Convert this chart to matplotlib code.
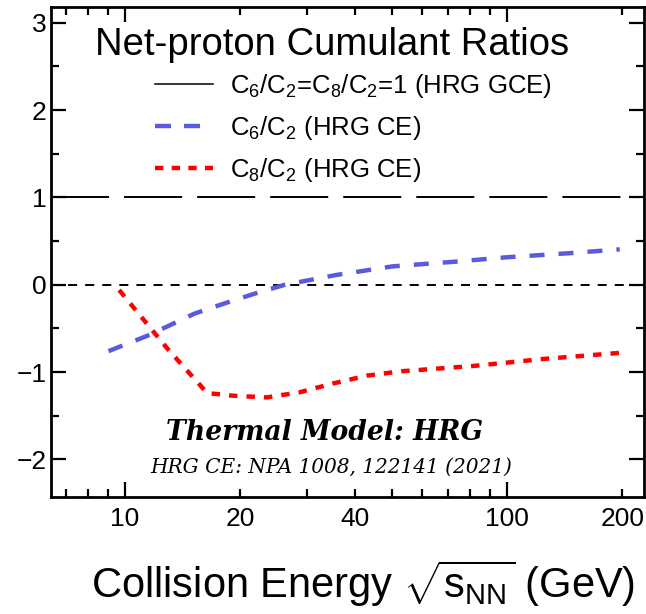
import matplotlib
matplotlib.use('Agg')
import matplotlib.pyplot as plt
from matplotlib.lines import Line2D

plt.rcParams['font.family'] = ['Liberation Sans', 'DejaVu Sans']
plt.rcParams['mathtext.fontset'] = 'custom'
plt.rcParams['mathtext.rm'] = 'Liberation Sans'
plt.rcParams['mathtext.it'] = 'Liberation Sans:italic'
plt.rcParams['mathtext.bf'] = 'Liberation Sans:bold'
plt.rcParams['lines.scale_dashes'] = False

# ---- data ----
energy_c6 = [9.05, 11.5, 15.2, 18.6, 21.9, 26.2, 35.5, 50, 71, 100, 144, 197]
ratio_c6 = [-0.76, -0.58, -0.33, -0.20, -0.10, 0.0, 0.11, 0.21, 0.26, 0.315, 0.36, 0.405]

energy_c8 = [9.65, 12.9, 16.4, 19.1, 23.5, 28.7, 35, 43, 53, 81.5, 124, 197]
ratio_c8 = [-0.06, -0.73, -1.24, -1.27, -1.29, -1.23, -1.13, -1.04, -0.99, -0.93, -0.85, -0.78]

gce_level = 1.0
zero_level = 0.0

xticks_major = [10, 100]
xticks_minor = [7, 8, 9, 20, 30, 40, 50, 60, 70, 80, 90, 200]
xlabels_major = ['10', '100']
xlabels_minor = ['', '', '', '20', '', '40', '', '', '', '', '', '200']
yticks_major = [-2, -1, 0, 1, 2, 3]
yticks_minor = [-1.5, -0.5, 0.5, 1.5, 2.5]

label_gce = r'C$_6$/C$_2$=C$_8$/C$_2$=1 (HRG GCE)'
label_c6 = r'C$_6$/C$_2$ (HRG CE)'
label_c8 = r'C$_8$/C$_2$ (HRG CE)'

W, H = 646, 614
fig = plt.figure(figsize=(W / 100, H / 100), dpi=100)
L, R, T, B = 51, 644, 7, 497
ax = fig.add_axes([L / W, 1 - B / H, (R - L) / W, (B - T) / H])

blue = '#5a5ade'
red = '#ff0000'

ax.axhline(gce_level, color='black', lw=1.4, dashes=(41.8, 10.8), dash_capstyle='butt')
ax.axhline(zero_level, color='black', lw=1.4, dashes=(6.5, 5.8), dash_capstyle='butt')
ax.plot(energy_c6, ratio_c6, color=blue, lw=3.2, dashes=(10.8, 10.1), dash_capstyle='butt')
ax.plot(energy_c8, ratio_c8, color=red, lw=3.2, dashes=(6.1, 6.5), dash_capstyle='butt')

ax.set_xscale('log')
ax.set_xlim(6.4, 228)
ax.set_ylim(-2.43, 3.18)

ax.set_xticks(xticks_major, labels=xlabels_major)
ax.set_xticks(xticks_minor, labels=xlabels_minor, minor=True)
ax.set_yticks(yticks_major)
ax.set_yticks(yticks_minor, minor=True)
ax.tick_params(which='both', direction='in', top=True, right=True, width=1.6, labelsize=19)
ax.tick_params(which='major', length=11)
ax.tick_params(which='minor', length=6)
ax.tick_params(axis='x', which='both', pad=7)
ax.tick_params(axis='y', which='both', pad=3)
for s in ax.spines.values():
    s.set_linewidth(2)

ax.set_xlabel(r'Collision Energy $\sqrt{\mathrm{s}_{\mathrm{NN}}}$ (GeV)', fontsize=30)
ax.xaxis.label.set_va('baseline')
ax.xaxis.set_label_coords((363.5 - L) / (R - L), (B - 598) / (B - T))

ax.text((95 - L) / (R - L), (B - 55) / (B - T), 'Net-proton Cumulant Ratios',
        transform=ax.transAxes, fontsize=27.5, ha='left', va='baseline')

handles = [Line2D([], [], color='black', lw=1.1),
           Line2D([], [], color=blue, lw=3.2, dashes=(11.5, 9.4), dash_capstyle='butt'),
           Line2D([], [], color=red, lw=3.2, dashes=(6.0, 6.0), dash_capstyle='butt')]
ax.legend(handles, [label_gce, label_c6, label_c8], loc='upper left',
          bbox_to_anchor=((155 - L) / (R - L), (B - 72) / (B - T)),
          frameon=False, fontsize=18.5, handlelength=2.26, handletextpad=0.66,
          labelspacing=0.55, borderpad=0, borderaxespad=0)

ax.text((325 - L) / (R - L), (B - 440) / (B - T), 'Thermal Model: HRG',
        transform=ax.transAxes, fontsize=19.2, ha='center', va='baseline',
        family='DejaVu Serif', style='italic', weight='bold')
ax.text((331 - L) / (R - L), (B - 473) / (B - T), 'HRG CE: NPA 1008, 122141 (2021)',
        transform=ax.transAxes, fontsize=14.5, ha='center', va='baseline',
        family='DejaVu Serif', style='italic')

fig.savefig('out.png', dpi=100)
